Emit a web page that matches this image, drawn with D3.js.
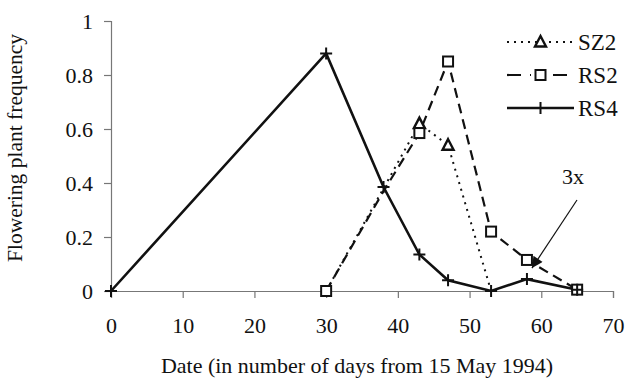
<!DOCTYPE html>
<html>
<head>
<meta charset="utf-8">
<title>Flowering plant frequency</title>
<script src="https://cdn.jsdelivr.net/npm/d3@7/dist/d3.min.js"></script>
<style>
  body { margin: 0; background: #fff; }
  svg text { font-family: "Liberation Serif", "DejaVu Serif", serif !important; fill: #111; }
</style>
</head>
<body>
<script>
// data
var xTicks = [0, 10, 20, 30, 40, 50, 60, 70];
var yTicks = [0, 0.2, 0.4, 0.6, 0.8, 1];
var sz2Days = [30, 38, 43, 47, 53];
var sz2Vals = [0, 0.38, 0.62, 0.54, 0];
var rs2Days = [30, 38, 43, 47, 53, 58, 65];
var rs2Vals = [0, 0.37, 0.585, 0.85, 0.22, 0.115, 0.005];
var rs4Days = [0, 30, 38, 43, 47, 53, 58, 65];
var rs4Vals = [0, 0.88, 0.385, 0.135, 0.04, 0, 0.044, 0.005];
var seriesNames = ["SZ2", "RS2", "RS4"];

var width = 639, height = 382;
var margin = {left: 111, right: 26, top: 21, bottom: 91};
var serif = "'Liberation Serif', 'DejaVu Serif', serif";

var svg = d3.select("body").append("svg")
    .attr("width", width).attr("height", height);

var x = d3.scaleLinear().domain([0, 70]).range([margin.left, width - margin.right]);
var y = d3.scaleLinear().domain([0, 1]).range([height - margin.bottom, margin.top]);

// axes
var xAxis = svg.append("g")
    .attr("transform", "translate(0," + y(0) + ")")
    .call(d3.axisBottom(x).tickValues(xTicks).tickSize(7).tickPadding(19).tickFormat(d3.format("d")));
var yAxis = svg.append("g")
    .attr("transform", "translate(" + x(0) + ",0)")
    .call(d3.axisLeft(y).tickValues(yTicks).tickSize(7).tickPadding(11).tickFormat(function(d) { return d === 0 || d === 1 ? d : d3.format(".1f")(d); }));
[xAxis, yAxis].forEach(function(a) {
  a.attr("font-family", serif).attr("font-size", 22);
  a.select(".domain").attr("stroke", "#777").attr("stroke-width", 1.2);
  a.selectAll(".tick line").attr("stroke", "#777").attr("stroke-width", 1.2);
  a.selectAll(".tick text").attr("fill", "#111");
});

svg.append("text")
    .attr("transform", "translate(22,148) rotate(-90)")
    .attr("text-anchor", "middle")
    .attr("font-family", serif).attr("font-size", 21.5)
    .text("Flowering plant frequency");
svg.append("text")
    .attr("x", 357).attr("y", 373)
    .attr("text-anchor", "middle")
    .attr("font-family", serif).attr("font-size", 22)
    .text("Date (in number of days from 15 May 1994)");

function pts(days, vals) { return days.map(function(d, i) { return [d, vals[i]]; }); }
var line = d3.line().x(function(d) { return x(d[0]); }).y(function(d) { return y(d[1]); });

var styles = {
  SZ2: {dash: "2,5", width: 2, data: pts(sz2Days, sz2Vals), marker: "tri"},
  RS2: {dash: "10,6", width: 2.2, data: pts(rs2Days, rs2Vals), marker: "sq"},
  RS4: {dash: null, width: 2.6, data: pts(rs4Days, rs4Vals), marker: "plus"}
};

function drawMarker(g, type, cx, cy) {
  if (type === "tri") {
    g.append("path")
      .attr("d", "M" + cx + "," + (cy - 6) + "L" + (cx + 5.5) + "," + (cy + 4.5) + "L" + (cx - 5.5) + "," + (cy + 4.5) + "Z")
      .attr("fill", "#fff").attr("stroke", "#111").attr("stroke-width", 2.4);
  } else if (type === "sq") {
    g.append("rect")
      .attr("x", cx - 5).attr("y", cy - 5).attr("width", 10).attr("height", 10)
      .attr("fill", "#fff").attr("stroke", "#111").attr("stroke-width", 2);
  } else {
    g.append("path")
      .attr("d", "M" + (cx - 6) + "," + cy + "H" + (cx + 6) + "M" + cx + "," + (cy - 6) + "V" + (cy + 6))
      .attr("stroke", "#111").attr("stroke-width", 2);
  }
}

var plot = svg.append("g");
["RS4", "RS2", "SZ2"].forEach(function(name) {
  var s = styles[name];
  plot.append("path")
    .datum(s.data)
    .attr("d", line)
    .attr("fill", "none")
    .attr("stroke", "#111")
    .attr("stroke-width", s.width)
    .attr("stroke-dasharray", s.dash);
});
["SZ2", "RS2", "RS4"].forEach(function(name) {
  var s = styles[name];
  s.data.forEach(function(d) {
    // markers hidden under other series in the original
    if (name !== "RS4" && d[0] === 38) return;
    if (name === "SZ2" && (d[0] === 30 || d[0] === 53)) return;
    drawMarker(plot, s.marker, x(d[0]), y(d[1]));
  });
});

// legend
var leg = svg.append("g");
seriesNames.forEach(function(name, i) {
  var s = styles[name];
  var ly = 42 + i * 33;
  leg.append("line")
    .attr("x1", 507).attr("x2", 574).attr("y1", ly).attr("y2", ly)
    .attr("stroke", "#111").attr("stroke-width", s.width)
    .attr("stroke-dasharray", name === "RS2" ? "14,9" : s.dash);
  if (name === "RS2") {
    leg.append("rect").attr("x", 531).attr("y", ly - 8).attr("width", 12).attr("height", 16).attr("fill", "#fff");
  }
  drawMarker(leg, s.marker, 540.5, ly);
  leg.append("text")
    .attr("x", 578).attr("y", ly + 8)
    .attr("font-family", serif).attr("font-size", 23)
    .text(name);
});

// "3x" annotation with arrow
svg.append("defs").append("marker")
    .attr("id", "arr").attr("viewBox", "0 0 10 10")
    .attr("refX", 10).attr("refY", 5)
    .attr("markerWidth", 26).attr("markerHeight", 11)
    .attr("markerUnits", "userSpaceOnUse")
    .attr("orient", "auto")
  .append("path").attr("d", "M0,0L10,5L0,10Z").attr("fill", "#111");
svg.append("line")
    .attr("x1", 577).attr("y1", 200)
    .attr("x2", x(58.7)).attr("y2", y(0.085))
    .attr("stroke", "#111").attr("stroke-width", 1.2)
    .attr("marker-end", "url(#arr)");
svg.append("text")
    .attr("x", 573).attr("y", 184)
    .attr("text-anchor", "middle")
    .attr("font-family", serif).attr("font-size", 22)
    .text("3x");
</script>
</body>
</html>
